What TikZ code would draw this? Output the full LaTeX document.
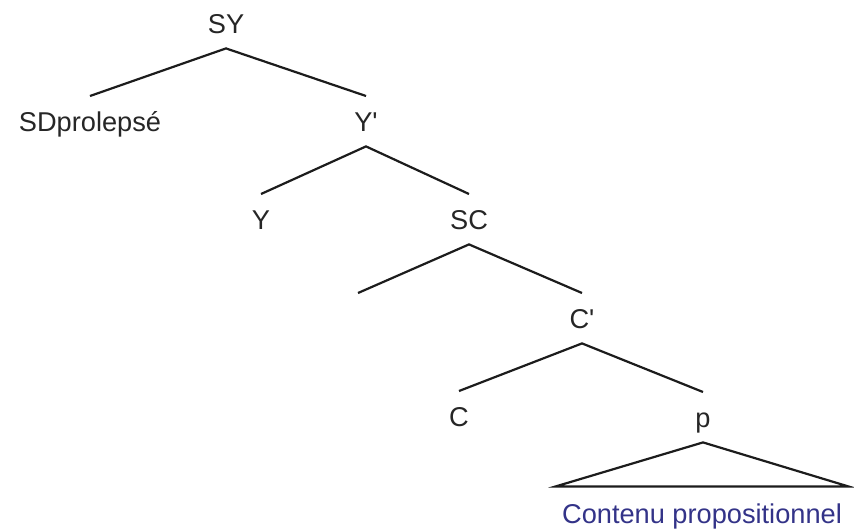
\documentclass[tikz,border=0pt]{standalone}
\usepackage{fontspec}
\setmainfont{Liberation Sans}
\usepackage{xcolor}
\usepackage{tikz}
\definecolor{propblue}{RGB}{51,51,136}
\definecolor{branchgray}{RGB}{28,28,28}

\begin{document}
\begin{tikzpicture}[x=0.5pt, y=-0.5pt,
    catnode/.style={anchor=base, font=\fontsize{13.6}{16}\selectfont,
        text height=9.8pt, text depth=0pt, inner xsep=0pt, inner ysep=7.5pt,
        text=black!85},
    branch/.style={line width=1.1pt, draw=branchgray}]

    \useasboundingbox (0,0) rectangle (854,531);

    % Root and its daughters
    \node[catnode] (sy) at (226,33) {SY};
    \node[catnode] (sdp) at (90,131) {SDprolepsé};
    \node[catnode] (ybar) at (366,131) {Y\textquotesingle};

    % Y' level
    \node[catnode] (y) at (261,229) {Y};
    \node[catnode] (sc) at (469,229) {SC};

    % SC level (left daughter left empty)
    \coordinate (scleft) at (358,293);
    \node[catnode] (cbar) at (582,328) {C\textquotesingle};

    % C' level
    \node[catnode] (c) at (459,426) {C};
    \node[catnode] (p) at (703,427) {p};

    % Content under the triangle
    \node[catnode, text=propblue, inner xsep=3pt, inner ysep=8.3pt] (ct)
        at (702,523) {Contenu propositionnel};

    % Branches
    \draw[branch] (sdp.north) -- (sy.south) -- (ybar.north);
    \draw[branch] (y.north) -- (ybar.south) -- (sc.north);
    \draw[branch] (scleft) -- (sc.south) -- (cbar.north);
    \draw[branch] (c.north) -- (cbar.south) -- (p.north);

    % Triangle over the proposition
    \draw[branch] (p.south) -- (ct.north west) -- (ct.north east) -- cycle;

\end{tikzpicture}
\end{document}
